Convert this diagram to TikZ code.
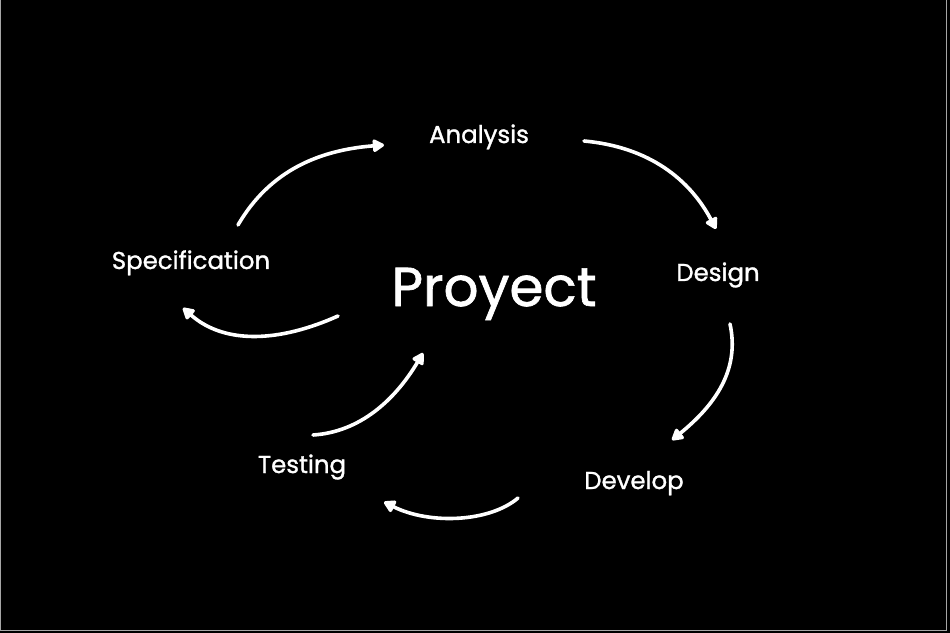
\documentclass[tikz,border=0pt]{standalone}
\usepackage{fontspec}
\setmainfont{Poppins}
\newfontfamily\boldish{Poppins}[FakeBold=1.2]
\usetikzlibrary{arrows.meta}
\begin{document}
\begin{tikzpicture}[x=1bp,y=-1bp,
  lbl/.style={text=white,font=\boldish\fontsize{24.5}{28}\selectfont,inner sep=0pt,anchor=base},
  big/.style={text=white,font=\boldish\fontsize{55}{62}\selectfont,inner sep=0pt,anchor=base},
  flow/.style={draw=white,line width=3.6bp,line cap=round,-{Triangle[width=14bp,length=13bp,round]}}]
\useasboundingbox (0,0) rectangle (950,633);
\fill[black] (0,0) rectangle (950,633);
\draw[gray!70,line width=0.8bp] (0.5,-2) -- (0.5,630.5) -- (946.5,630.5) -- (946.5,-2);
% labels
\node[big] (proj) at (494,306) {Proyect};
\node[lbl] (ana) at (479,143) {Analysis};
\node[lbl] (des) at (718,281) {Design};
\node[lbl] (dev) at (634,489) {Develop};
\node[lbl] (tes) at (302,473) {Testing};
\node[lbl] (spe) at (191,269) {Specification};
% connector ends
\coordinate (a1) at (238,225); \coordinate (a2) at (384,145);
\coordinate (b1) at (584,141); \coordinate (b2) at (716,229);
\coordinate (c1) at (730,324); \coordinate (c2) at (672,440);
\coordinate (d1) at (518,498); \coordinate (d2) at (384,502);
\coordinate (e1) at (313,435); \coordinate (e2) at (423,353);
\coordinate (f1) at (338,316); \coordinate (f2) at (183,308);
% connectors
\draw[flow] (a1) .. controls (270,170) and (320,150) .. (a2);
\draw[flow] (b1) .. controls (650,147) and (690,180) .. (b2);
\draw[flow] (c1) .. controls (740,370) and (715,405) .. (c2);
\draw[flow] (d1) .. controls (490,522) and (430,525) .. (d2);
\draw[flow] (e1) .. controls (360,432) and (395,400) .. (e2);
\draw[flow] (f1) .. controls (280,342) and (225,345) .. (f2);
\end{tikzpicture}
\end{document}
